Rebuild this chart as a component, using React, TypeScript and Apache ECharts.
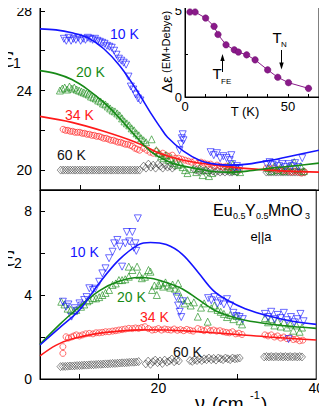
import React, { useEffect, useRef } from "react";
import * as echarts from "echarts";

type P = [number, number];

// ---------- top panel (eps1) measured points ----------
const top10K: P[] = [
  [8.0,26.6],[8.3,26.5],[8.6,26.65],[8.9,26.5],[9.2,26.6],[9.5,26.55],[9.8,26.65],[10.1,26.5],[10.4,26.6],[10.7,26.55],
  [11.0,26.65],[11.3,26.6],[11.6,26.55],[11.9,26.6],[12.2,26.5],[12.5,26.45],[12.8,26.4],[13.1,26.35],[13.4,26.25],[13.7,26.2],
  [14.0,26.15],[14.3,26.0],[14.6,25.8],[14.9,25.6],[15.2,25.5],[15.5,25.4],[15.8,25.3],[16.1,24.7],[16.4,24.2],[16.7,24.05],
  [17.0,23.8],[17.3,23.6],[17.6,23.5],
  [22.5,21.0],[22.7,21.3],[22.8,21.6],[22.9,21.8],[23.0,21.5],
  [26.4,20.9],[26.8,20.75],[27.2,20.85],[27.6,20.6],[28.0,20.7],[28.4,20.6],[28.8,20.5],[29.0,20.75],[29.1,20.3],[29.4,20.1],[29.7,20.2],[30.0,20.05],
  [33.4,20.3],[33.8,20.4],[34.2,20.25],[34.6,20.35],[35.0,20.2],[35.4,20.3],[35.8,20.15],[36.2,20.3],[36.6,20.2],[37.0,20.35],[37.4,20.15],[37.9,20.6]
];
const top20K: P[] = [
  [7.5,24.0],[7.8,24.1],[8.1,24.15],[8.4,24.05],[8.7,24.2],[9.0,24.1],[9.3,24.15],[9.6,24.05],[9.9,24.0],[10.2,23.95],
  [10.5,23.9],[10.8,23.85],[11.1,23.8],[11.4,23.7],[11.7,23.65],[12.0,23.6],[12.3,23.5],[12.6,23.45],[12.9,23.35],[13.2,23.3],
  [13.5,23.2],[13.8,23.1],[14.1,23.0],[14.4,22.95],[14.7,22.85],[15.0,22.75],[15.3,22.6],[15.6,22.45],[15.9,22.35],[16.2,22.25],
  [16.5,22.1],[16.8,22.0],[17.1,21.85],[17.4,21.75],[17.7,21.6],[18.0,21.5],[18.3,21.4],[19.0,21.55],
  [19.6,21.0],[19.9,20.85],[20.2,20.7],[20.5,20.6],[20.8,20.75],[21.1,20.5],[21.4,20.6],[21.7,20.35],[22.0,20.45],[22.3,20.25],
  [22.6,20.3],[22.9,20.15],[23.2,20.0],[23.5,19.85],
  [24.2,20.05],[24.6,19.9],[25.0,20.1],[25.4,19.75],[25.8,20.0],[26.2,19.7],[26.6,19.85],
  [28.6,20.2],[28.9,20.0],[29.2,20.3],[29.5,19.95],[29.8,20.1],[30.1,19.9],
  [33.6,20.1],[34.0,19.95],[34.4,20.2],[34.8,20.0],[35.2,20.15],[35.6,19.95],[36.0,20.1],[36.4,20.2],[36.9,20.4],[37.3,20.05],[37.7,20.2],[38.1,19.95]
];
const top34K: P[] = [
  [7.9,22.05],[8.2,22.0],[8.5,22.0],[8.8,21.95],[9.1,21.95],[9.4,21.9],[9.7,21.9],[10.0,21.9],[10.3,21.85],[10.6,21.85],
  [10.9,21.8],[11.2,21.8],[11.5,21.75],[11.8,21.75],[12.1,21.7],[12.4,21.7],[12.7,21.65],[13.0,21.6],[13.3,21.6],[13.6,21.55],
  [13.9,21.5],[14.2,21.5],[14.5,21.45],[14.8,21.4],[15.1,21.4],[15.4,21.35],[15.7,21.3],[16.0,21.3],[16.3,21.25],[16.6,21.2],
  [16.9,21.1],[17.2,21.05],[17.5,21.0],
  [18.0,21.1],[18.4,21.0],[18.8,20.9],[19.2,20.85],[19.6,20.95],[20.0,20.8],[20.4,20.85],[20.8,20.75],[21.2,20.7],[21.6,20.75],
  [22.0,20.6],[22.4,20.6],[22.8,20.55],[23.2,20.5],[23.6,20.45],[24.0,20.4],[24.4,20.45],[24.8,20.35],[25.2,20.4],[25.6,20.35],
  [26.0,20.3],[26.4,20.3],[26.8,20.2],[27.2,20.25],[27.6,20.2],[28.0,20.15],[28.4,20.2],[28.8,20.1],[29.2,20.05],[29.6,20.1],[30.0,20.0],
  [33.4,20.1],[33.8,20.05],[34.2,20.1],[34.6,20.0],[35.0,20.05],[35.4,19.95],[35.8,20.0],[36.2,19.95],[36.6,19.9],[37.0,19.95],
  [37.4,19.9],[37.8,19.85],[38.2,19.9]
];
const top60K: P[] = [
  [7.6,20.0],[7.9,20.0],[8.2,20.0],[8.5,20.0],[8.8,20.0],[9.1,20.0],[9.4,20.0],[9.7,20.0],[10.0,20.0],[10.3,20.0],
  [10.6,20.0],[10.9,20.0],[11.2,20.0],[11.5,20.0],[11.8,20.0],[12.1,20.0],[12.4,20.0],[12.7,20.0],[13.0,20.0],[13.3,20.0],
  [13.6,20.0],[13.9,20.0],[14.2,20.0],[14.5,20.0],[14.8,20.0],[15.1,20.0],[15.4,20.0],[15.7,20.0],[16.0,20.0],[16.3,20.0],
  [16.6,20.0],[16.9,20.0],[17.2,20.0],[17.5,20.0],
  [18.0,20.2],[18.3,20.1],[18.6,20.3],[18.9,20.15],[19.2,20.25],[19.5,20.1],[19.8,20.3],[20.1,20.2],[20.4,20.1],[20.7,20.25],
  [21.0,20.15],[21.3,20.2],[21.6,20.1],[21.9,20.2],
  [24.3,20.05],[24.6,20.0],[24.9,19.95],[25.2,20.0],[25.5,19.95],[25.8,20.0],[26.1,19.9],[26.4,20.0],[26.7,19.95],[27.0,19.9],
  [27.3,19.95],[27.6,19.9],[27.9,19.95],[28.2,19.9],[28.5,19.95],[28.8,19.9],[29.1,19.9],[29.4,19.95],[29.7,19.9],
  [33.4,19.9],[33.7,19.9],[34.0,19.9],[34.3,19.9],[34.6,19.9],[34.9,19.9],[35.2,19.9],[35.5,19.9],[35.8,19.9],[36.1,19.9],
  [36.4,19.9],[36.7,19.9],[37.0,19.9],[37.3,19.9],[37.6,19.9],[37.9,19.9],[38.2,19.9]
];

// ---------- top panel fits ----------
const fitTop10K: P[] = [[5,27.1],[7,27.05],[9,26.9],[11,26.65],[13,26.1],[15,25.25],[17,24.1],[19,22.8],[20,22.2],[21,21.65],[23,20.95],[25,20.5],[27,20.3],[29,20.25],[31,20.3],[34,20.5],[37,20.75],[40,21.0]];
const fitTop20K: P[] = [[5,25.0],[7,24.85],[9,24.55],[11,24.05],[13,23.4],[15,22.6],[17,21.7],[19,20.9],[21,20.45],[23,20.2],[25,20.05],[27,19.92],[29,19.9],[31,19.95],[34,20.1],[37,20.22],[40,20.35]];
const fitTop34K: P[] = [[5,22.7],[9,22.4],[13,21.95],[17,21.4],[20,20.85],[23,20.5],[26,20.3],[29,20.15],[32,20.05],[36,19.95],[40,19.9]];

// ---------- bottom panel (eps2) measured points ----------
const bot10K: P[] = [
  [7.9,3.68],[8.3,3.44],[8.6,3.55],[9.0,2.97],[9.4,3.37],[9.7,3.25],[10.0,3.6],[10.3,3.5],[10.6,3.76],[10.9,3.9],
  [11.25,4.32],[11.7,4.24],[12.0,4.3],[12.5,4.63],[12.9,5.03],[13.3,5.27],[13.75,5.75],[14.2,6.06],[14.4,6.46],[14.8,6.62],
  [15.1,6.3],[15.4,5.35],[15.8,6.46],[16.0,7.0],[16.3,6.55],[16.7,7.0],[16.9,6.25],[17.1,6.46],[17.2,6.1],[17.4,7.65],
  [22.3,3.9],[22.5,3.5],[22.7,3.2],[22.9,2.95],[23.1,3.7],
  [26.3,3.85],[26.7,3.75],[27.1,3.9],[27.5,3.6],[27.9,3.7],[28.3,3.55],[28.7,3.8],[29.1,3.5],[29.5,3.15],[29.9,3.0],[30.3,2.95],[30.7,2.85],
  [33.5,3.1],[33.9,2.95],[34.3,3.2],[34.7,2.85],[35.1,3.05],[35.5,2.9],[35.9,3.15],[36.3,2.8],[36.5,1.9],[36.8,2.95],
  [37.2,2.7],[37.6,2.85],[38.0,3.1],[38.4,2.75]
];
const bot20K: P[] = [
  [7.7,3.68],[8.1,3.55],[8.5,3.35],[8.9,3.3],[9.3,3.25],[9.6,3.29],[10.2,3.44],[10.6,3.55],[11.0,3.7],[11.25,3.76],
  [11.7,3.85],[12.1,3.84],[12.5,3.9],[12.9,4.0],[13.3,4.1],[13.75,4.24],[14.2,4.48],[14.6,4.55],[15.0,4.71],[15.4,4.71],
  [15.8,4.75],[16.25,4.87],[16.25,5.35],[16.7,5.19],[17.3,5.35],[17.6,4.95],[17.9,4.8],[18.3,4.87],[18.75,5.19],[19.0,5.11],
  [19.2,4.24],[19.5,4.45],[19.8,4.0],[20.0,4.48],[20.3,4.55],[20.6,4.4],[20.9,4.6],[21.2,4.45],[21.5,4.35],[21.8,4.5],
  [22.1,4.3],[22.5,4.56],[22.5,4.16],
  [22.9,3.84],[23.3,3.6],[23.7,3.75],[24.1,3.5],[24.5,3.65],[25.0,2.97],[25.4,3.4],[25.8,3.6],[26.25,2.73],[26.7,3.37],
  [27.1,3.5],[27.5,3.29],[27.9,3.2],[28.3,3.1],[28.7,2.95],[29.1,3.05],[29.5,2.85],[29.9,3.0],[30.3,2.75],[30.6,2.6],
  [33.5,2.9],[33.9,2.7],[34.3,2.85],[34.7,2.55],[35.1,2.75],[35.5,2.5],[35.9,2.7],[36.3,2.45],[36.7,2.6],[37.1,2.3],
  [37.5,2.55],[37.9,2.25],[38.2,2.45]
];
const bot34K: P[] = [
  [7.9,1.22],[7.9,1.54],[8.3,2.01],[8.6,1.95],[9.0,2.0],[9.3,2.05],[9.6,2.1],[10.0,2.05],[10.4,2.1],[10.8,2.15],
  [11.25,2.17],[11.7,2.15],[12.1,2.2],[12.5,2.2],[12.9,2.22],[13.3,2.25],[13.75,2.25],[14.2,2.28],[14.6,2.3],[15.0,2.33],
  [15.4,2.35],[15.8,2.38],[16.25,2.41],[16.7,2.4],[17.1,2.43],[17.5,2.41],[17.9,2.45],[18.3,2.49],[18.75,2.4],[19.2,2.33],
  [19.6,2.35],[20.0,2.4],[20.4,2.33],[20.8,2.38],[21.2,2.35],[21.6,2.33],[22.0,2.38],[22.4,2.32],[22.8,2.35],[23.2,2.3],
  [23.6,2.36],[24.0,2.32],[24.4,2.28],[25.0,2.4],[25.4,2.35],[25.8,2.3],[26.2,2.38],[26.6,2.3],[27.0,2.33],[27.4,2.28],
  [27.8,2.3],[28.2,2.25],[28.6,2.22],[29.0,2.2],[29.4,2.25],[29.8,2.15],[30.2,2.18],[30.6,2.12],
  [33.5,2.1],[33.9,2.05],[34.3,2.1],[34.7,2.0],[35.1,2.05],[35.5,1.95],[35.9,2.0],[36.3,1.92],[36.7,1.97],[37.1,1.88],
  [37.5,1.9],[37.9,1.82],[38.3,1.85]
];
const bot60K: P[] = [
  [7.6,0.59],[7.9,0.6],[8.2,0.6],[8.5,0.61],[8.8,0.62],[9.1,0.62],[9.4,0.63],[9.7,0.64],[10.0,0.64],[10.3,0.65],
  [10.6,0.66],[10.9,0.66],[11.2,0.67],[11.5,0.68],[11.8,0.68],[12.1,0.69],[12.4,0.7],[12.7,0.7],[13.0,0.71],[13.3,0.72],
  [13.6,0.72],[13.9,0.73],[14.2,0.74],[14.5,0.74],[14.8,0.75],[15.1,0.76],[15.4,0.77],[15.7,0.77],[16.0,0.78],[16.3,0.79],
  [16.6,0.8],[16.9,0.8],[17.2,0.81],[17.5,0.83],
  [18.4,0.72],[18.7,0.85],[19.0,0.7],[19.3,0.82],[19.6,0.9],[19.9,0.78],[20.2,0.86],[20.5,0.74],[20.8,0.9],[21.1,0.8],
  [21.4,0.86],[21.7,0.95],[22.0,0.82],[22.3,0.9],[22.6,0.86],
  [24.0,0.88],[24.3,0.84],[24.6,0.92],[24.9,0.88],[25.2,0.96],[25.5,0.88],[25.8,0.96],[26.1,0.92],[26.4,1.0],[26.7,0.92],
  [27.0,0.98],[27.3,0.9],[27.6,1.0],[27.9,0.96],[28.2,0.92],[28.5,1.0],[28.8,0.96],[29.1,0.92],[29.4,1.0],[29.7,0.96],
  [30.0,0.98],[30.3,1.0],
  [33.4,1.05],[33.7,1.07],[34.0,1.05],[34.3,1.07],[34.6,1.05],[34.9,1.07],[35.2,1.05],[35.5,1.07],[35.8,1.05],[36.1,1.07],
  [36.4,1.05],[36.7,1.07],[37.0,1.05],[37.3,1.07],[37.6,1.05],[37.9,1.07],[38.2,1.05]
];

// ---------- bottom panel fits ----------
const fitBot10K: P[] = [[5,1.62],[7.5,2.45],[10,3.29],[12.5,4.56],[15,5.67],[17.5,6.4],[19,6.5],[21,6.4],[23,5.95],[25,5.1],[27,4.2],[29,3.7],[31,3.35],[34,3.0],[37,2.75],[40,2.6]];
const fitBot20K: P[] = [[5,1.65],[7.5,2.6],[10,3.44],[12.5,4.2],[15,4.65],[17.5,4.83],[19,4.8],[21,4.6],[23,4.3],[25,3.8],[27,3.3],[29,3.0],[31,2.8],[34,2.62],[37,2.5],[40,2.41]];
const fitBot34K: P[] = [[5,1.1],[7,1.6],[9,1.9],[12,2.15],[15,2.28],[18,2.34],[21,2.33],[24,2.28],[27,2.2],[30,2.12],[34,2.0],[40,1.86]];

// ---------- inset ----------
const insetT = [2.4, 4.9, 10, 14.1, 16, 19.9, 23.9, 25.9, 29.9, 34, 40.1, 45, 50.2, 59.9];
const insetDE = [4.92, 4.92, 4.57, 4.09, 3.62, 3.02, 2.73, 2.6, 2.44, 2.15, 1.57, 1.14, 0.83, 0.5];

// ---------- ticks ----------
const nuTicks = [10, 20, 30];
const nuLabels = [20, 40];
const eps1Ticks = [20, 22, 24, 26, 28];
const eps1Labels = [20, 24, 28];
const eps2Ticks = [2, 4, 6, 8];
const eps2Labels = [0, 4, 8];
const insetXTicks = [10, 20, 30, 40, 50, 60];
const insetXLabels = [0, 50];
const insetYTicks = [2.5];
const insetYLabels = [0, 5];

const BLUE = "#1414ff";
const GREEN = "#178a17";
const RED = "#ff1a1a";
const BLACK = "#111";
const PURPLE = "#8a1a8a";
const FONT = "Liberation Sans, Arial, sans-serif";
const SERIF = "Liberation Serif, serif";

function txt(x: number, y: number, text: string, size: number, color = "#000", align = "left", family = FONT, extra: any = {}) {
  return {
    type: "text",
    x, y, z: 100, ...extra,
    style: {
      text, fill: color, fontSize: size, fontFamily: family,
      textAlign: align, align, textVerticalAlign: "middle", verticalAlign: "middle",
      ...(extra.style || {}),
    },
  };
}

export default function App() {
  const ref = useRef<HTMLDivElement>(null);
  useEffect(() => {
    if (!ref.current) return;
    const chart = echarts.init(ref.current, undefined, { renderer: "svg" });

    const xBase = (grid: number, labels: boolean) => ({
      type: "value", gridIndex: grid, min: 5, max: 40,
      axisLine: { show: true, onZero: false, lineStyle: { color: "#000", width: 1 } },
      axisTick: { show: true, inside: true, length: 5, customValues: nuTicks, lineStyle: { color: "#000" } },
      axisLabel: labels
        ? { show: true, customValues: nuLabels, color: "#000", fontSize: 14, fontFamily: FONT, margin: 2 }
        : { show: false },
      splitLine: { show: false },
    });
    const yBase = (grid: number, min: number, max: number, ticks: number[], labels: number[]) => ({
      type: "value", gridIndex: grid, min, max,
      axisLine: { show: true, onZero: false, lineStyle: { color: "#000", width: 1 } },
      axisTick: { show: true, inside: true, length: 5, customValues: ticks, lineStyle: { color: "#000" } },
      axisLabel: { show: true, customValues: labels, color: "#000", fontSize: 14, fontFamily: FONT, margin: 8 },
      splitLine: { show: false },
    });

    const sc = (data: P[], x: number, color: string, symbol: string, size: number | number[], rotate = 0, bw = 0.8) => ({
      type: "scatter", xAxisIndex: x, yAxisIndex: x, data, symbol, symbolSize: size, symbolRotate: rotate,
      itemStyle: { color: "rgba(0,0,0,0)", borderColor: color, borderWidth: bw },
      z: 3, silent: true,
    });
    const ln = (data: P[], x: number, color: string) => ({
      type: "line", xAxisIndex: x, yAxisIndex: x, data, smooth: 0.35, symbol: "none",
      lineStyle: { color, width: 1.6 }, z: 4, silent: true,
    });

    const arrow = (x: number, y1: number, y2: number) => {
      const dir = y2 > y1 ? 1 : -1;
      return [
        { type: "line", z: 100, shape: { x1: x, y1, x2: x, y2: y2 - dir * 5 }, style: { stroke: "#000", lineWidth: 1 } },
        { type: "polygon", z: 100, shape: { points: [[x - 2.2, y2 - dir * 7], [x + 2.2, y2 - dir * 7], [x, y2]] }, style: { fill: "#000" } },
      ];
    };

    const option: any = {
      animation: false,
      backgroundColor: "#fff",
      grid: [
        { left: 40, top: 2, width: 279, height: 188, show: true, borderColor: "#000", borderWidth: 1, backgroundColor: "rgba(0,0,0,0)" },
        { left: 40, top: 190, width: 279, height: 189, show: true, borderColor: "#000", borderWidth: 1, backgroundColor: "rgba(0,0,0,0)" },
        { left: 185, top: 2, width: 134, height: 95, show: true, borderColor: "#000", borderWidth: 1, backgroundColor: "#fff", z: 5 },
      ],
      xAxis: [
        xBase(0, false),
        xBase(1, true),
        {
          type: "value", gridIndex: 2, min: 0, max: 65, z: 6,
          axisLine: { show: true, onZero: false, lineStyle: { color: "#000" } },
          axisTick: { show: true, inside: true, length: 3, customValues: insetXTicks, lineStyle: { color: "#000" } },
          axisLabel: { show: true, customValues: insetXLabels, color: "#000", fontSize: 13, fontFamily: FONT, margin: 3 },
          splitLine: { show: false },
        },
      ],
      yAxis: [
        yBase(0, 19, 28.45, eps1Ticks, eps1Labels),
        yBase(1, 0, 9, eps2Ticks, eps2Labels),
        {
          type: "value", gridIndex: 2, min: 0, max: 5.5, z: 6,
          axisLine: { show: true, onZero: false, lineStyle: { color: "#000" } },
          axisTick: { show: true, inside: true, length: 3, customValues: insetYTicks, lineStyle: { color: "#000" } },
          axisLabel: { show: true, customValues: insetYLabels, color: "#000", fontSize: 13, fontFamily: FONT, margin: 3 },
          splitLine: { show: false },
        },
      ],
      series: [
        sc(top60K, 0, BLACK, "diamond", [7, 8], 0, 0.6),
        sc(top34K, 0, RED, "circle", 6),
        sc(top20K, 0, GREEN, "triangle", 7),
        sc(top10K, 0, BLUE, "triangle", 7, 180),
        ln(fitTop34K, 0, RED),
        ln(fitTop20K, 0, GREEN),
        ln(fitTop10K, 0, BLUE),
        sc(bot60K, 1, BLACK, "diamond", [7, 8], 0, 0.6),
        sc(bot34K, 1, RED, "circle", 6),
        sc(bot20K, 1, GREEN, "triangle", 7),
        sc(bot10K, 1, BLUE, "triangle", 7, 180),
        ln(fitBot34K, 1, RED),
        ln(fitBot20K, 1, GREEN),
        ln(fitBot10K, 1, BLUE),
        {
          type: "line", xAxisIndex: 2, yAxisIndex: 2, z: 10, silent: true,
          data: insetT.map((t, i) => [t, insetDE[i]]),
          symbol: "circle", symbolSize: 6.5,
          itemStyle: { color: PURPLE, borderColor: "#6a106a", borderWidth: 0.5 },
          lineStyle: { color: PURPLE, width: 1 },
        },
      ],
      graphic: [
        // eps labels
        txt(1, 56, "ε", 32, "#000", "left", SERIF),
        txt(13, 63, "1", 14, "#000", "left"),
        txt(2, 255, "ε", 32, "#000", "left", SERIF),
        txt(14, 263, "2", 14, "#000", "left"),
        // top labels
        txt(110, 34, "10 K", 14, BLUE),
        txt(76, 72, "20 K", 14, GREEN),
        txt(65, 115, "34 K", 14, RED),
        txt(57, 155, "60 K", 14, BLACK),
        // bottom labels
        txt(70, 252, "10 K", 14, BLUE),
        txt(117, 297, "20 K", 14, GREEN),
        txt(140, 317, "34 K", 14, RED),
        txt(173, 352, "60 K", 14, BLACK),
        // compound
        txt(213, 210, "Eu", 16),
        txt(233, 216, "0.5", 9),
        txt(245, 210, "Y", 16),
        txt(256, 216, "0.5", 9),
        txt(268, 210, "MnO", 16),
        txt(305, 216, "3", 9),
        txt(261, 236, "e||a", 13, "#000", "center"),
        // x axis title
        txt(200, 403, "ν", 20, "#000", "center"),
        txt(212, 403, "(cm", 19),
        txt(250, 395, "-1", 11),
        txt(261, 403, ")", 19),
        // inset labels
        txt(245, 111, "T (K)", 13, "#000", "center"),
        {
          type: "text", x: 166, y: 52, rotation: Math.PI / 2, z: 100,
          style: {
            text: "{a|Δε} {b|(EM+Debye)}",
            fill: "#000", fontFamily: FONT,
            textAlign: "center", align: "center", textVerticalAlign: "middle", verticalAlign: "middle",
            rich: { a: { fontSize: 15, fontFamily: FONT, fill: "#000" }, b: { fontSize: 11, fontFamily: FONT, fill: "#000" } },
          },
        },
        txt(217, 73, "T", 15, "#000", "center"),
        txt(221, 81, "FE", 8),
        txt(277, 37, "T", 15, "#000", "center"),
        txt(281, 44, "N", 8),
        ...arrow(222.5, 72, 54),
        ...arrow(281.5, 50, 69.5),
      ],
    };
    chart.setOption(option);
    return () => chart.dispose();
  }, []);
  return <div ref={ref} style={{ width: 327, height: 414, margin: -8 }} />;
}
